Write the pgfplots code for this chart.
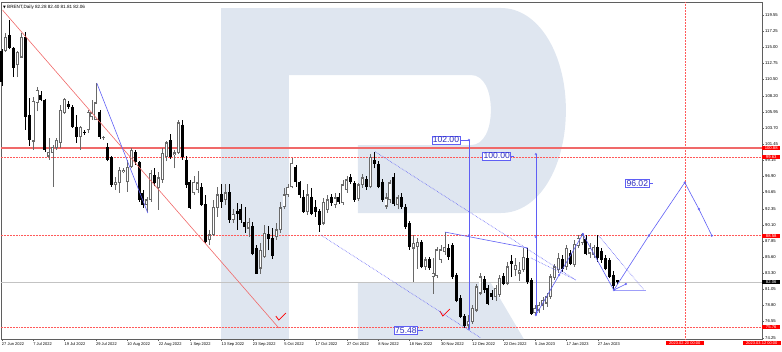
\documentclass[border=0pt]{standalone}
\usepackage{pgfplots}
\usepackage{pgfplotstable}
\pgfplotsset{compat=1.18}
\usepackage{fontspec}
\setmainfont{Liberation Sans}
\newfontfamily\dejavu{DejaVu Sans}
\definecolor{wm}{RGB}{223,230,240}
\definecolor{bullgray}{RGB}{105,105,105}
\definecolor{lred}{RGB}{240,105,105}
\definecolor{dred}{RGB}{255,90,90}
\definecolor{lblue}{RGB}{95,95,245}
\definecolor{boxblue}{RGB}{45,45,190}
\definecolor{framegray}{RGB}{95,95,95}
\definecolor{bidgray}{RGB}{195,195,195}

\pgfplotstableread{
i o h l c
0 114.4 114.8 109.6 110.2
1 114.5 117.0 114.3 116.4
2 116.6 118.8 114.7 114.9
3 114.9 115.0 110.8 112.2
4 112.5 114.4 110.8 114.3
5 113.6 117.0 113.5 116.4
6 116.4 117.1 103.4 105.2
7 105.5 107.9 101.2 102.0
8 101.8 108.0 100.6 107.4
9 107.2 109.4 106.0 109.0
10 108.2 108.8 107.4 107.6
11 107.6 107.8 100.3 100.6
12 99.7 102.3 99.2 100.3
13 100.2 101.3 95.4 101.0
14 100.9 102.3 100.6 102.0
15 101.6 106.9 100.9 106.2
16 105.8 107.9 105.6 107.7
17 107.0 107.4 106.3 106.6
18 106.6 106.9 103.7 103.8
19 103.8 105.5 101.6 102.4
20 102.4 104.0 100.6 103.8
21 103.1 103.4 102.7 103.0
22 103.4 106.2 103.0 105.9
23 105.2 107.6 104.8 105.8
24 104.8 110.0 104.8 107.2
25 105.9 106.2 102.1 102.4
26 102.3 102.5 102.0 102.4
27 100.9 101.6 99.0 99.2
28 99.5 99.8 95.4 95.7
29 95.7 96.8 95.0 96.1
30 96.0 98.2 94.6 97.8
31 97.5 98.0 97.3 97.8
32 96.1 99.2 94.7 98.2
33 98.2 100.8 98.0 100.6
34 100.2 100.6 98.5 98.9
35 98.8 99.0 93.3 93.6
36 94.5 95.0 92.5 92.9
37 92.9 94.0 91.9 93.6
38 93.6 97.8 93.3 97.3
39 97.0 98.0 95.5 96.0
40 95.3 97.5 92.2 96.7
41 96.4 100.9 96.0 100.1
42 99.6 101.9 99.0 101.6
43 101.9 102.8 99.3 99.6
44 99.9 100.6 98.0 100.2
45 100.2 104.8 100.0 104.4
46 104.1 104.8 99.2 99.6
47 99.2 99.8 95.3 95.7
48 96.0 96.4 92.3 92.5
49 94.6 97.0 94.3 96.1
50 95.0 97.6 94.6 96.0
51 95.3 96.0 92.7 92.9
52 92.9 94.3 87.5 87.7
53 88.0 89.3 87.3 88.7
54 88.7 93.6 88.5 92.6
55 92.5 95.4 91.2 94.3
56 94.3 95.8 92.5 93.3
57 93.6 95.8 92.9 94.6
58 94.6 95.8 90.4 90.8
59 90.8 92.3 90.4 91.6
60 92.0 93.1 89.4 91.7
61 92.2 93.0 90.4 90.8
62 90.5 92.6 89.0 89.8
63 89.6 91.0 88.4 90.4
64 89.9 90.5 85.8 86.1
65 86.8 87.3 83.2 83.3
66 84.0 87.6 83.2 86.5
67 85.6 90.0 85.5 88.9
68 88.7 89.9 86.5 88.2
69 88.2 89.6 85.3 85.8
70 88.4 90.4 88.0 89.4
71 89.4 93.3 89.0 92.5
72 92.6 95.3 92.3 94.3
73 94.3 95.8 94.0 95.4
74 95.4 99.5 95.2 98.7
75 98.2 98.5 95.4 96.1
76 96.1 96.3 93.8 94.3
77 94.0 95.0 91.8 92.0
78 91.9 95.8 91.5 94.3
79 94.0 95.2 91.4 91.6
80 92.6 93.6 91.2 91.9
81 92.0 92.3 89.1 90.1
82 90.3 93.8 90.0 93.3
83 92.2 94.3 91.8 93.6
84 93.9 94.4 92.8 93.2
85 92.9 94.5 92.5 93.9
86 94.0 94.6 93.0 93.3
87 93.2 96.4 92.9 95.7
88 95.0 96.9 94.6 96.4
89 96.7 97.2 95.8 96.1
90 95.9 96.3 93.3 93.6
91 93.7 96.0 93.5 95.7
92 95.7 97.2 95.3 96.7
93 96.4 97.0 95.0 95.4
94 95.4 100.0 95.2 99.6
95 99.2 100.3 98.0 98.7
96 98.6 99.0 95.2 95.4
97 96.1 96.5 93.3 93.6
98 92.7 94.5 92.3 93.9
99 93.6 96.4 93.2 96.0
100 96.8 97.4 92.8 93.1
101 92.9 94.3 92.3 93.9
102 93.9 94.6 92.3 92.6
103 92.6 93.0 89.5 89.8
104 90.3 90.6 86.6 87.0
105 86.8 88.6 82.1 87.5
106 87.0 88.2 83.9 87.7
107 87.7 88.0 84.0 84.2
108 84.2 85.6 83.8 85.2
109 85.2 85.6 83.8 84.1
110 82.8 85.5 80.4 83.3
111 83.0 87.0 82.6 86.6
112 85.2 87.2 84.8 86.6
113 86.3 89.1 85.9 87.0
114 86.8 87.4 85.2 85.6
115 87.2 87.6 82.5 82.8
116 83.0 83.4 79.2 79.5
117 79.8 80.3 77.0 77.2
118 77.2 77.6 75.6 76.0
119 76.0 77.5 75.48 76.6
120 76.5 78.8 76.2 78.4
121 78.1 81.8 77.8 81.4
122 80.5 83.3 80.2 82.8
123 82.4 82.9 80.6 81.0
124 81.2 81.6 78.8 79.1
125 80.5 80.9 79.6 80.0
126 80.0 81.6 79.4 81.2
127 80.3 83.0 80.0 82.6
128 82.8 83.4 81.6 81.9
129 81.9 84.9 81.6 84.2
130 85.0 85.8 82.8 84.6
131 83.8 85.5 82.9 84.4
132 83.3 84.9 82.2 83.7
133 83.8 86.8 83.5 85.6
134 85.4 86.9 81.8 82.1
135 82.3 82.6 77.5 77.7
136 77.8 78.9 77.4 78.4
137 78.1 79.3 77.7 78.8
138 78.8 80.0 78.2 79.5
139 79.1 80.6 78.6 80.0
140 80.0 83.2 79.7 82.8
141 82.7 84.6 82.4 84.2
142 83.8 86.1 83.4 85.4
143 85.2 85.8 83.5 83.9
144 84.2 87.3 83.8 86.8
145 86.1 86.6 84.4 84.7
146 84.5 87.9 84.2 87.4
147 87.2 88.6 86.8 88.2
148 87.6 89.0 87.2 88.7
149 88.0 88.6 85.8 86.1
150 86.1 87.5 85.5 86.8
151 85.9 87.3 85.4 86.9
152 86.9 88.7 84.9 85.5
153 86.4 86.8 84.8 85.2
154 85.4 85.8 83.7 84.0
155 85.1 85.5 82.6 82.8
156 83.0 83.6 80.9 81.6
157 82.28 82.40 81.81 82.06
}\candles

\begin{document}
\begin{tikzpicture}
\useasboundingbox (0,0) rectangle (782pt,-351pt);
\begin{axis}[
  at={(1pt,-2pt)}, anchor=north west,
  scale only axis, width=761pt, height=337pt,
  xmin=-0.2, xmax=193.9, ymin=74.08, ymax=121.34,
  clip=false,
  axis line style={draw=framegray, line width=0.7pt},
  tick align=outside, major tick length=2pt,
  tick style={draw=framegray, line width=0.4pt},
  xtick pos=left, ytick pos=right, yticklabel pos=right,
  xtick={0,8,...,152},
  xticklabels={27 Jun 2022,7 Jul 2022,19 Jul 2022,29 Jul 2022,10 Aug 2022,22 Aug 2022,1 Sep 2022,13 Sep 2022,23 Sep 2022,5 Oct 2022,17 Oct 2022,27 Oct 2022,8 Nov 2022,18 Nov 2022,30 Nov 2022,12 Dec 2022,22 Dec 2022,5 Jan 2023,17 Jan 2023,27 Jan 2023},
  ytick={74.25,76.55,78.80,81.05,83.30,85.60,87.85,90.10,92.35,94.65,96.90,99.15,101.45,103.70,105.95,108.20,110.50,112.75,115.00,117.25,119.55},
  yticklabels={74.25,76.55,78.80,81.05,83.30,85.60,87.85,90.10,92.35,94.65,96.90,99.15,101.45,103.70,105.95,108.20,110.50,112.75,115.00,117.25,119.55},
  xticklabel style={font=\fontsize{4}{4}\selectfont, anchor=north west, inner xsep=0pt, inner ysep=1.5pt},
  yticklabel style={font=\fontsize{4.2}{4.2}\selectfont, anchor=west, inner xsep=1pt},
]
% watermark
\fill[wm] (axis cs:55.87,120.5) rectangle (axis cs:73.21,74.08);
\fill[wm] (axis cs:73.21,120.5) -- (axis cs:127.3,120.5) .. controls (axis cs:137,120.5) and (axis cs:143.88,114) .. (axis cs:143.88,106.19) .. controls (axis cs:143.88,98.2) and (axis cs:137,91.75) .. (axis cs:127.3,91.75) -- (axis cs:90.82,91.75) -- (axis cs:90.82,101.28) -- (axis cs:119.64,101.28) .. controls (axis cs:123,101.28) and (axis cs:124.74,103.5) .. (axis cs:124.74,106.19) .. controls (axis cs:124.74,108.9) and (axis cs:123,111.1) .. (axis cs:119.64,111.1) -- (axis cs:73.21,111.1) -- cycle;
\fill[wm] (axis cs:90.82,81.93) -- (axis cs:124.74,81.93) -- (axis cs:133.16,74.08) -- (axis cs:90.82,74.08) -- cycle;

% horizontal levels
\addplot[lred, line width=1.5pt] coordinates {(-0.2,100.88) (193.9,100.88)};
\addplot[dred, densely dotted, line width=0.5pt] coordinates {(-0.2,99.63) (193.9,99.63)};
\addplot[dred, densely dotted, line width=0.5pt] coordinates {(-0.2,88.58) (193.9,88.58)};
\addplot[dred, densely dotted, line width=0.5pt] coordinates {(-0.2,75.76) (193.9,75.76)};
\addplot[bidgray, line width=0.5pt] coordinates {(-0.2,82.06) (193.9,82.06)};
\addplot[dred, densely dotted, line width=0.5pt] coordinates {(174.2,74.08) (174.2,121.34)};

% candles: wicks
\addplot[draw=bullgray, line width=0.5pt, quiver={u=0, v=\thisrow{h}-\thisrow{l}, every arrow/.append style={-}}, restrict expr to domain={\thisrow{c}-\thisrow{o}}{0:1000}] table[x=i, y=l] {\candles};
\addplot[draw=black, line width=0.5pt, quiver={u=0, v=\thisrow{h}-\thisrow{l}, every arrow/.append style={-}}, restrict expr to domain={\thisrow{c}-\thisrow{o}}{-1000:-0.001}] table[x=i, y=l] {\candles};
% bull bodies
\addplot[draw=bullgray, line width=3.0pt, quiver={u=0, v=\thisrow{c}-\thisrow{o}+0.1, every arrow/.append style={-}}, restrict expr to domain={\thisrow{c}-\thisrow{o}}{0:1000}] table[x=i, y expr=\thisrow{o}-0.05] {\candles};
\addplot[draw=white, line width=1.3pt, quiver={u=0, v=\thisrow{c}-\thisrow{o}-0.24, every arrow/.append style={-}}, restrict expr to domain={\thisrow{c}-\thisrow{o}}{0.3:1000}] table[x=i, y expr=\thisrow{o}+0.12] {\candles};
% bear bodies
\addplot[draw=black, line width=3.0pt, quiver={u=0, v=\thisrow{c}-\thisrow{o}-0.1, every arrow/.append style={-}}, restrict expr to domain={\thisrow{c}-\thisrow{o}}{-1000:-0.001}] table[x=i, y expr=\thisrow{o}+0.05] {\candles};

% red trend line and checks
\addplot[lred, line width=0.6pt] coordinates {(0.18,120.22) (70.66,75.62)};
\addplot[red, line width=0.8pt] coordinates {(69.9,77.30) (70.66,76.74) (72.45,77.72)};
\addplot[red, line width=0.8pt] coordinates {(111.73,78.00) (112.5,77.30) (114.29,78.28)};

% blue analysis lines
\addplot[lblue, line width=0.6pt] coordinates {(24.23,109.98) (37.24,91.75)};
\addplot[lblue, line width=0.6pt] coordinates {(113.0,89.08) (134.18,86.84)};
\addplot[lblue, line width=0.6pt] coordinates {(119.13,102.0) (119.13,75.48)};
\addplot[lblue, line width=0.6pt] coordinates {(136.22,100.0) (136.22,77.44)};
\addplot[lblue, densely dotted, line width=0.6pt] coordinates {(95.23,100.34) (146.43,82.35)};
\addplot[lblue, densely dotted, line width=0.6pt] coordinates {(81.38,88.66) (122.2,74.22)};
\addplot[lblue, densely dotted, line width=0.6pt] coordinates {(134.95,85.44) (146.43,82.35)};
\addplot[lblue, line width=0.6pt] coordinates {(136.22,77.44) (148.21,88.8)};
\addplot[lblue, line width=0.6pt] coordinates {(148.21,88.8) (156.1,80.95)};
\addplot[lblue, densely dotted, line width=0.6pt] coordinates {(152.3,88.52) (163.8,80.95)};
\addplot[lblue!60, line width=1.0pt] coordinates {(156.1,80.95) (164.3,80.95)};
\addplot[lblue, line width=0.6pt] coordinates {(156.1,80.95) (159.2,81.79)};
\addplot[lblue, line width=0.6pt] coordinates {(156.1,80.95) (165.05,88.58) (174.2,96.02) (177.8,92.3) (181.1,88.58)};
\addplot[lblue, only marks, mark=o, mark size=0.9pt, mark options={line width=0.5pt}] coordinates {(119.13,102.0) (119.13,88.58) (119.13,75.48) (136.22,100.0) (136.22,88.4) (136.22,77.44) (142.17,83.05) (148.21,88.8) (156.1,80.95) (159.2,81.79) (165.05,88.58) (174.2,96.02) (177.8,92.3) (181.1,88.58)};

% blue boxed labels
\addplot[lblue, line width=0.6pt] coordinates {(116.9,102.0) (119.13,102.0)};
\addplot[lblue, line width=0.6pt] coordinates {(129.85,99.74) (130.7,99.74)};
\addplot[lblue, line width=0.6pt] coordinates {(106.1,75.3) (107.4,75.3)};
\addplot[lblue, line width=0.6pt] coordinates {(165.1,95.9) (166.1,95.9)};
\node[draw=lblue, fill=white, text=boxblue, font=\fontsize{8.6}{8.6}\selectfont, inner sep=0.8pt, anchor=east, line width=0.5pt] at (axis cs:116.9,102.0) {102.00};
\node[draw=lblue, fill=white, text=boxblue, font=\fontsize{8.6}{8.6}\selectfont, inner sep=0.8pt, anchor=east, line width=0.5pt] at (axis cs:129.85,99.74) {100.00};
\node[draw=lblue, fill=white, text=boxblue, font=\fontsize{8.6}{8.6}\selectfont, inner sep=0.8pt, anchor=east, line width=0.5pt] at (axis cs:106.1,75.3) {75.48};
\node[draw=lblue, fill=white, text=boxblue, font=\fontsize{8.6}{8.6}\selectfont, inner sep=0.8pt, anchor=east, line width=0.5pt] at (axis cs:165.1,95.9) {96.02};

% header
\node[anchor=north west, font=\fontsize{4.6}{4.6}\selectfont, inner sep=0pt, xshift=2pt, yshift=-2.5pt] at (rel axis cs:0,1) {{\dejavu\fontsize{3.6}{3.6}\selectfont ▼}\ BRENT,Daily 82.28 82.40 81.81 82.06};

% price labels on right axis
\node[fill=red, text=white, font=\fontsize{4.2}{4.2}\selectfont, inner sep=0.6pt, minimum width=18pt, anchor=west] at (axis cs:193.9,100.88) {100.88};
\node[fill=red, text=white, font=\fontsize{4.2}{4.2}\selectfont, inner sep=0.6pt, minimum width=18pt, anchor=west] at (axis cs:193.9,99.63) {99.63};
\node[fill=red, text=white, font=\fontsize{4.2}{4.2}\selectfont, inner sep=0.6pt, minimum width=18pt, anchor=west] at (axis cs:193.9,88.58) {88.58};
\node[fill=red, text=white, font=\fontsize{4.2}{4.2}\selectfont, inner sep=0.6pt, minimum width=18pt, anchor=west] at (axis cs:193.9,75.76) {75.76};
\node[fill=black, text=white, font=\fontsize{4.2}{4.2}\selectfont, inner sep=0.6pt, minimum width=18pt, anchor=west] at (axis cs:193.9,82.06) {82.06};
% time labels
\node[fill=red, text=white, font=\fontsize{4}{4}\selectfont, inner sep=0.7pt, minimum width=38pt, anchor=north] at (axis cs:174.2,74.08) [yshift=-2pt] {2023.02.20 00:00};
\node[fill=red, text=white, font=\fontsize{4}{4}\selectfont, inner sep=0.7pt, minimum width=38pt, anchor=north east] at (axis cs:193.9,74.08) [yshift=-2pt, xshift=19pt] {2023.03.12 00:00};
\end{axis}
\end{tikzpicture}
\end{document}
